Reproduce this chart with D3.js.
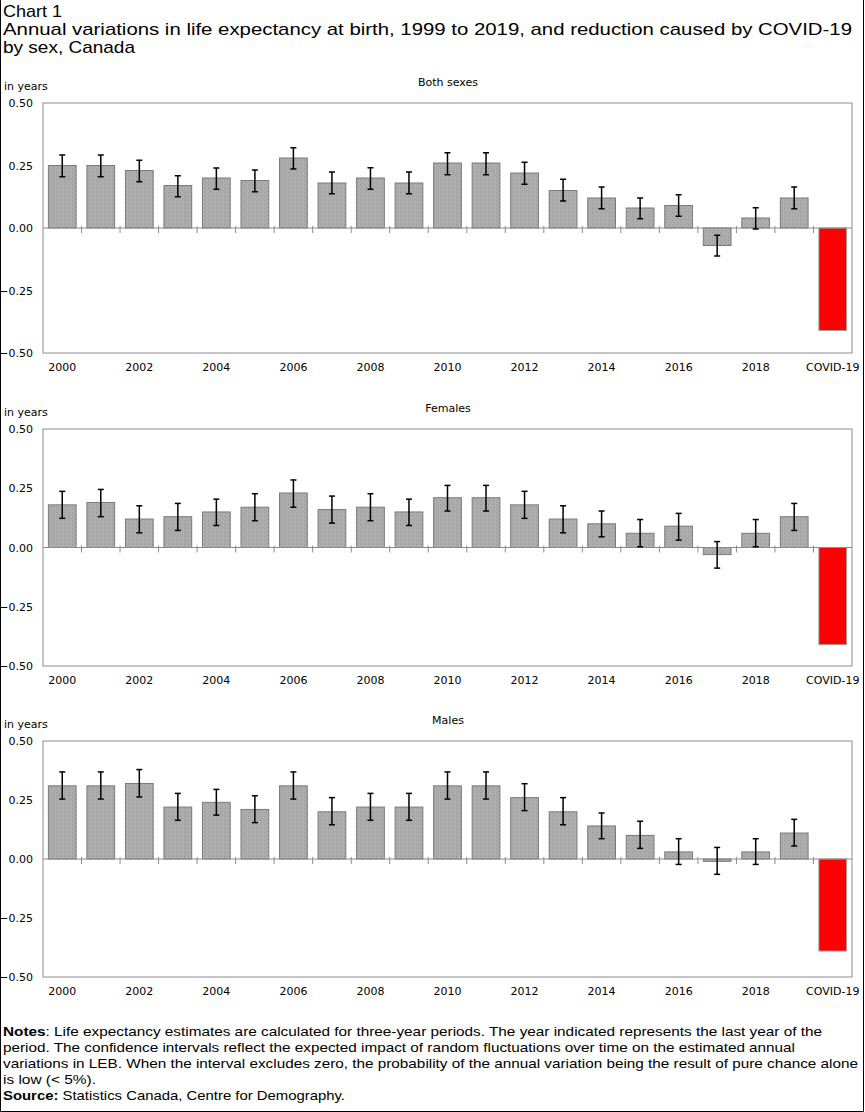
<!DOCTYPE html>
<html>
<head>
<meta charset="utf-8">
<script src="https://cdn.jsdelivr.net/npm/d3@7"></script>
<style>
  body { margin: 0; background: #fff; }
  svg { display: block; }
  .tick text { font-family: "DejaVu Sans", Verdana, sans-serif; font-size: 11px; fill: #000; }
  .lbl { font-family: "DejaVu Sans", Verdana, sans-serif; font-size: 11px; fill: #000; }
  .ttl { font-family: "Liberation Sans", Arial, sans-serif; font-size: 17px; fill: #000; }
  .note { font-family: "Liberation Sans", Arial, sans-serif; font-size: 13px; fill: #000; }
</style>
</head>
<body>
<svg id="chart" width="865" height="1112"></svg>
<script>
// data
var categories = ["2000","2001","2002","2003","2004","2005","2006","2007","2008","2009",
                  "2010","2011","2012","2013","2014","2015","2016","2017","2018","2019","COVID-19"];
var xLabels = ["2000","2002","2004","2006","2008","2010","2012","2014","2016","2018","COVID-19"];
var yTicks = [0.5, 0.25, 0, -0.25, -0.5];

var bothValues = [0.25,0.25,0.23,0.17,0.20,0.19,0.28,0.18,0.20,0.18,0.26,0.26,0.22,0.15,0.12,0.08,0.09,-0.07,0.04,0.12,-0.41];
var bothLow    = [0.205,0.205,0.185,0.125,0.155,0.145,0.236,0.137,0.155,0.137,0.213,0.213,0.175,0.108,0.077,0.037,0.047,-0.112,-0.004,0.077,null];
var bothHigh   = [0.292,0.292,0.271,0.209,0.240,0.232,0.321,0.224,0.241,0.224,0.301,0.301,0.263,0.195,0.164,0.120,0.133,-0.029,0.081,0.164,null];

var femaleValues = [0.18,0.19,0.12,0.13,0.15,0.17,0.23,0.16,0.17,0.15,0.21,0.21,0.18,0.12,0.10,0.06,0.09,-0.03,0.06,0.13,-0.41];
var femaleLow    = [0.123,0.130,0.062,0.072,0.093,0.113,0.170,0.103,0.113,0.093,0.154,0.154,0.123,0.062,0.045,0.003,0.031,-0.087,0.003,0.072,null];
var femaleHigh   = [0.237,0.245,0.176,0.186,0.204,0.227,0.285,0.217,0.227,0.204,0.262,0.262,0.237,0.176,0.154,0.118,0.144,0.025,0.118,0.186,null];

var maleValues = [0.31,0.31,0.32,0.22,0.24,0.21,0.31,0.20,0.22,0.22,0.31,0.31,0.26,0.20,0.14,0.10,0.03,-0.01,0.03,0.11,-0.39];
var maleLow    = [0.254,0.254,0.263,0.164,0.186,0.154,0.254,0.145,0.164,0.164,0.254,0.254,0.205,0.145,0.086,0.045,-0.023,-0.065,-0.023,0.055,null];
var maleHigh   = [0.369,0.369,0.379,0.278,0.295,0.268,0.369,0.260,0.278,0.278,0.369,0.369,0.319,0.260,0.195,0.160,0.086,0.049,0.086,0.168,null];

var panels = [
  {title: "Both sexes", values: bothValues, low: bothLow, high: bothHigh, top: 103, bottom: 353},
  {title: "Females", values: femaleValues, low: femaleLow, high: femaleHigh, top: 429, bottom: 666},
  {title: "Males", values: maleValues, low: maleLow, high: maleHigh, top: 741, bottom: 977}
];

var svg = d3.select("#chart");
var left = 43, right = 852;

// stippled grey fill like the original
var pat = svg.append("defs").append("pattern")
    .attr("id", "stip").attr("width", 4).attr("height", 4)
    .attr("patternUnits", "userSpaceOnUse");
pat.append("rect").attr("width", 4).attr("height", 4).attr("fill", "#acacac");
pat.append("rect").attr("x", 0).attr("y", 0).attr("width", 1).attr("height", 1).attr("fill", "#979797");
pat.append("rect").attr("x", 2).attr("y", 2).attr("width", 1).attr("height", 1).attr("fill", "#9c9c9c");
pat.append("rect").attr("x", 3).attr("y", 1).attr("width", 1).attr("height", 1).attr("fill", "#b8b8b8");

var x = d3.scaleBand().domain(categories).range([left, right])
    .paddingInner(0.28).paddingOuter(0.14);

panels.forEach(function (p) {
  var y = d3.scaleLinear().domain([-0.5, 0.5]).range([p.bottom, p.top]);
  var g = svg.append("g");

  g.append("rect")
    .attr("x", left).attr("y", p.top)
    .attr("width", right - left).attr("height", p.bottom - p.top)
    .attr("fill", "none").attr("stroke", "#8c8c8c");

  g.append("text").attr("class", "lbl")
    .attr("x", 448).attr("y", p.top - 17).attr("text-anchor", "middle")
    .text(p.title);
  g.append("text").attr("class", "lbl")
    .attr("x", 4).attr("y", p.top - 13)
    .text("in years");

  g.append("g")
    .attr("transform", "translate(" + (left - 10) + ",0)")
    .call(d3.axisLeft(y).tickValues(yTicks).tickSize(0).tickPadding(0).tickFormat(d3.format(".2f")))
    .call(function (a) { a.select(".domain").remove(); });

  g.append("g")
    .attr("transform", "translate(0," + (p.bottom + 5) + ")")
    .call(d3.axisBottom(x).tickValues(xLabels).tickSize(0).tickPadding(5))
    .call(function (a) { a.select(".domain").remove(); });

  var rows = categories.map(function (c, i) {
    return {cat: c, v: p.values[i], lo: p.low[i], hi: p.high[i]};
  });

  g.selectAll(".bar").data(rows).enter().append("rect")
    .attr("class", "bar")
    .attr("x", function (d) { return x(d.cat); })
    .attr("y", function (d) { return y(Math.max(0, d.v)); })
    .attr("width", x.bandwidth())
    .attr("height", function (d) { return Math.abs(y(d.v) - y(0)); })
    .attr("fill", function (d) { return d.cat === "COVID-19" ? "#ff0000" : "url(#stip)"; })
    .attr("stroke", function (d) { return d.cat === "COVID-19" ? "#a0a0a0" : "#7a7a7a"; })
    .attr("stroke-width", 1);

  // zero line and the little category ticks on it
  g.append("line")
    .attr("x1", left).attr("x2", right)
    .attr("y1", y(0)).attr("y2", y(0))
    .attr("stroke", "#8c8c8c");
  g.selectAll(".ztick").data(categories.slice(1)).enter().append("line")
    .attr("x1", function (c) { return x(c) - x.step() * 0.14; })
    .attr("x2", function (c) { return x(c) - x.step() * 0.14; })
    .attr("y1", y(0) - 2).attr("y2", y(0) + 5)
    .attr("stroke", "#8c8c8c");

  // error bars
  var eb = g.selectAll(".err").data(rows.filter(function (d) { return d.lo !== null; }))
    .enter().append("g")
    .attr("transform", function (d) { return "translate(" + (x(d.cat) + x.bandwidth() / 2) + ",0)"; });
  eb.append("line")
    .attr("y1", function (d) { return y(d.hi); }).attr("y2", function (d) { return y(d.lo); })
    .attr("stroke", "#000").attr("stroke-width", 1.5);
  eb.append("line")
    .attr("x1", -3).attr("x2", 3)
    .attr("y1", function (d) { return y(d.hi); }).attr("y2", function (d) { return y(d.hi); })
    .attr("stroke", "#000").attr("stroke-width", 1.5);
  eb.append("line")
    .attr("x1", -3).attr("x2", 3)
    .attr("y1", function (d) { return y(d.lo); }).attr("y2", function (d) { return y(d.lo); })
    .attr("stroke", "#000").attr("stroke-width", 1.5);
});

// title
svg.append("text").attr("class", "ttl").attr("x", 3).attr("y", 17)
  .attr("textLength", 59).attr("lengthAdjust", "spacingAndGlyphs").text("Chart 1");
svg.append("text").attr("class", "ttl").attr("x", 3).attr("y", 35)
  .attr("textLength", 849).attr("lengthAdjust", "spacingAndGlyphs")
  .text("Annual variations in life expectancy at birth, 1999 to 2019, and reduction caused by COVID-19");
svg.append("text").attr("class", "ttl").attr("x", 3).attr("y", 53)
  .attr("textLength", 132).attr("lengthAdjust", "spacingAndGlyphs").text("by sex, Canada");

// notes
var n1 = svg.append("text").attr("class", "note").attr("x", 3).attr("y", 1036)
  .attr("textLength", 819).attr("lengthAdjust", "spacingAndGlyphs");
n1.append("tspan").attr("font-weight", "bold").text("Notes");
n1.append("tspan").text(": Life expectancy estimates are calculated for three-year periods.  The year indicated represents the last year of the");
svg.append("text").attr("class", "note").attr("x", 3).attr("y", 1052)
  .attr("textLength", 792).attr("lengthAdjust", "spacingAndGlyphs")
  .text("period.  The confidence intervals reflect the expected impact of random  fluctuations over time on the estimated annual");
svg.append("text").attr("class", "note").attr("x", 3).attr("y", 1068)
  .attr("textLength", 855).attr("lengthAdjust", "spacingAndGlyphs")
  .text("variations in LEB.  When the interval excludes zero, the probability  of the annual variation being the result of pure chance alone");
svg.append("text").attr("class", "note").attr("x", 3).attr("y", 1084)
  .attr("textLength", 93).attr("lengthAdjust", "spacingAndGlyphs").text("is low (< 5%).");
var n5 = svg.append("text").attr("class", "note").attr("x", 3).attr("y", 1100)
  .attr("textLength", 342).attr("lengthAdjust", "spacingAndGlyphs");
n5.append("tspan").attr("font-weight", "bold").text("Source:");
n5.append("tspan").text(" Statistics Canada, Centre for Demography.");

// frame on left, right and bottom
svg.append("path")
  .attr("d", "M0.5,0V1111.5H863.5V0")
  .attr("fill", "none").attr("stroke", "#000");
</script>
</body>
</html>
